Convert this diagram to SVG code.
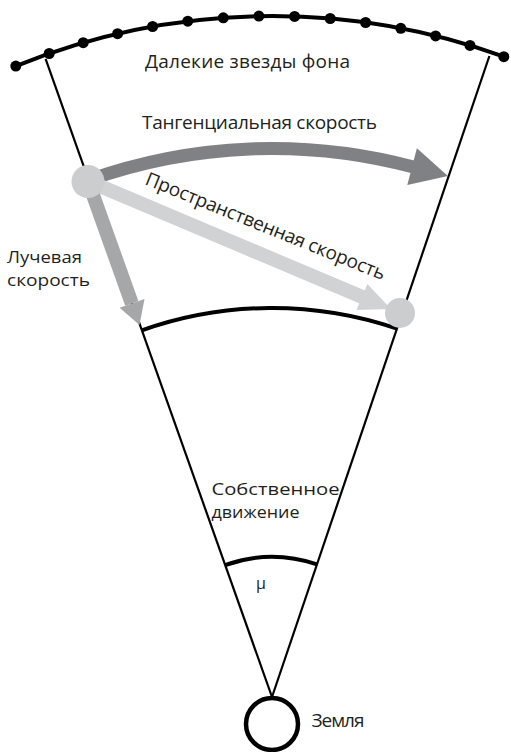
<svg xmlns="http://www.w3.org/2000/svg" width="511" height="752" viewBox="0 0 511 752">
<style>
.t{font-family:"Open Sans","Noto Sans","DejaVu Sans",sans-serif;font-size:19px;fill:#231f20}
.s{font-size:16.5px}
.ln{fill:none;stroke:#000;stroke-width:2.2}
.arc{fill:none;stroke:#000;stroke-width:4}
.dot{fill:#000}
</style>
<rect width="511" height="752" fill="#fff"/>
<g id="background-stars">
<path class="arc" d="M15.8,66.1 A681,681 0 0 1 503.8,56.7" stroke-width="3.5"/>
<circle class="dot" cx="15.8" cy="66.1" r="5.5"/>
<circle class="dot" cx="49.2" cy="53.5" r="5.5"/>
<circle class="dot" cx="83.2" cy="42.7" r="5.5"/>
<circle class="dot" cx="117.6" cy="33.7" r="5.5"/>
<circle class="dot" cx="152.6" cy="26.5" r="5.5"/>
<circle class="dot" cx="187.8" cy="21.2" r="5.5"/>
<circle class="dot" cx="223.3" cy="17.8" r="5.5"/>
<circle class="dot" cx="258.9" cy="16.1" r="5.5"/>
<circle class="dot" cx="294.6" cy="16.4" r="5.5"/>
<circle class="dot" cx="330.2" cy="18.5" r="5.5"/>
<circle class="dot" cx="365.6" cy="22.5" r="5.5"/>
<circle class="dot" cx="400.8" cy="28.3" r="5.5"/>
<circle class="dot" cx="435.6" cy="35.9" r="5.5"/>
<circle class="dot" cx="470.0" cy="45.4" r="5.5"/>
<circle class="dot" cx="503.8" cy="56.7" r="5.5"/>
<text class="t" x="145" y="68" textLength="205">Далекие звезды фона</text>
</g>
<g id="sight-lines">
<line class="ln" x1="272" y1="697" x2="45.6" y2="58.9"/>
<line class="ln" x1="272" y1="697" x2="489.4" y2="56"/>
<path class="arc" d="M141.8,330.4 A389,389 0 0 1 397.1,328.7"/>
<path class="arc" d="M225.1,565.1 A140,140 0 0 1 317,564.4"/>
</g>
<g id="connectors">
<path d="M88.4,180.1 A548.5,548.5 0 0 1 413.5,167.0" fill="none" stroke="#808184" stroke-width="13"/>
<polygon points="416.9,148.3 447.9,176.1 407.3,185.1" fill="#808184"/>
<line x1="88" y1="181" x2="363" y2="297.3" stroke="#d1d2d4" stroke-width="14"/>
<polygon points="367.4,284.1 391,309 356.5,310" fill="#d1d2d4"/>
<line x1="88" y1="181" x2="131.8" y2="303.4" stroke="#a6a7a9" stroke-width="14"/>
<polygon points="144.5,299 139.5,325 119.6,307.8" fill="#a6a7a9"/>
</g>
<g id="star-start">
<circle cx="88" cy="181.5" r="16.5" fill="#cccdcf"/>
</g>
<g id="star-end">
<circle cx="400" cy="313" r="15" fill="#cccdcf"/>
</g>
<g id="labels">
<text class="t" x="142" y="129" textLength="235">Тангенциальная скорость</text>
<text class="t" x="144" y="184" textLength="257" transform="rotate(22 144 184)">Пространственная скорость</text>
<text class="t s"><tspan x="7" y="262.5" textLength="75" lengthAdjust="spacingAndGlyphs">Лучевая</tspan><tspan x="7" y="285.5" textLength="83" lengthAdjust="spacingAndGlyphs">скорость</tspan></text>
<text class="t s"><tspan x="211.5" y="494.5" textLength="128" lengthAdjust="spacingAndGlyphs">Собственное</tspan><tspan x="211.5" y="517.5" textLength="88" lengthAdjust="spacingAndGlyphs">движение</tspan></text>
<text class="t" x="261" y="589" text-anchor="middle" style="font-size:16px">μ</text>
</g>
<g id="earth">
<circle cx="272" cy="724" r="26" fill="none" stroke="#000" stroke-width="4.5"/>
<text class="t" x="311.5" y="727" textLength="53">Земля</text>
</g>
</svg>
